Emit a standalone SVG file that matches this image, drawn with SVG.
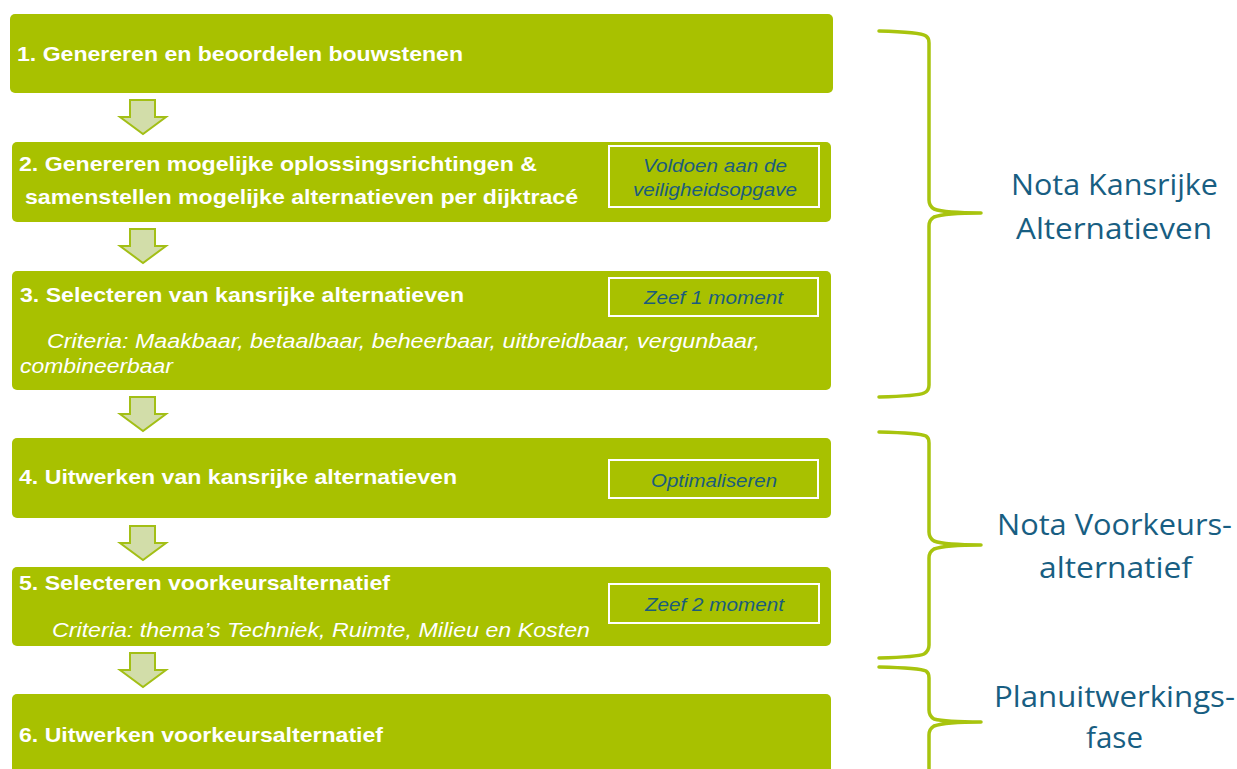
<svg xmlns="http://www.w3.org/2000/svg" width="1237" height="769" viewBox="0 0 1237 769">
<style>
.box{fill:#A8C100;}
.t{font-family:"Liberation Sans",Arial,sans-serif;font-weight:bold;font-size:21px;fill:#FFFFFF;}
.c{font-family:"Liberation Sans",Arial,sans-serif;font-style:italic;font-size:20px;fill:#FFFFFF;}
.ib{fill:none;stroke:#FFFFFF;stroke-width:2;}
.it{font-family:"Liberation Sans",Arial,sans-serif;font-style:italic;font-size:18px;fill:#1B5C7C;}
.arr{fill:#D2DDA9;stroke:#A3BF16;stroke-width:2;stroke-linejoin:miter;}
.br{fill:none;stroke:#A8C40E;stroke-width:3.5;stroke-linecap:round;stroke-linejoin:round;}
.lb{font-family:"Open Sans","Noto Sans",sans-serif;font-size:30px;fill:#185E82;}
</style>
<g id="node1">
<rect class="box" x="10" y="14" width="823" height="79" rx="5"/>
<text class="t" x="17" y="61" textLength="446" lengthAdjust="spacingAndGlyphs">1. Genereren en beoordelen bouwstenen</text>
</g>
<g id="node2">
<rect class="box" x="12" y="142" width="819" height="80" rx="5"/>
<text class="t" x="19" y="171" textLength="518" lengthAdjust="spacingAndGlyphs">2. Genereren mogelijke oplossingsrichtingen &amp;</text>
<text class="t" x="25" y="204" textLength="553" lengthAdjust="spacingAndGlyphs">samenstellen mogelijke alternatieven per dijktracé</text>
<rect class="ib" x="609" y="146" width="210" height="61"/>
<text class="it" x="643" y="172" textLength="144" lengthAdjust="spacingAndGlyphs">Voldoen aan de</text>
<text class="it" x="633" y="196" textLength="164" lengthAdjust="spacingAndGlyphs">veiligheidsopgave</text>
</g>
<g id="node3">
<rect class="box" x="12" y="271" width="819" height="119" rx="5"/>
<text class="t" x="20" y="302" textLength="444" lengthAdjust="spacingAndGlyphs">3. Selecteren van kansrijke alternatieven</text>
<text class="c" x="47" y="348" textLength="713" lengthAdjust="spacingAndGlyphs">Criteria: Maakbaar, betaalbaar, beheerbaar, uitbreidbaar, vergunbaar,</text>
<text class="c" x="20" y="373" textLength="153" lengthAdjust="spacingAndGlyphs">combineerbaar</text>
<rect class="ib" x="609" y="278" width="209" height="38"/>
<text class="it" x="644" y="304" textLength="139" lengthAdjust="spacingAndGlyphs">Zeef 1 moment</text>
</g>
<g id="node4">
<rect class="box" x="12" y="438" width="819" height="80" rx="5"/>
<text class="t" x="19" y="484" textLength="438" lengthAdjust="spacingAndGlyphs">4. Uitwerken van kansrijke alternatieven</text>
<rect class="ib" x="609" y="460" width="209" height="38"/>
<text class="it" x="651" y="487" textLength="126" lengthAdjust="spacingAndGlyphs">Optimaliseren</text>
</g>
<g id="node5">
<rect class="box" x="12" y="567" width="819" height="79" rx="5"/>
<text class="t" x="19" y="590" textLength="371" lengthAdjust="spacingAndGlyphs">5. Selecteren voorkeursalternatief</text>
<text class="c" x="52" y="637" textLength="538" lengthAdjust="spacingAndGlyphs">Criteria: thema’s Techniek, Ruimte, Milieu en Kosten</text>
<rect class="ib" x="609" y="584" width="210" height="39"/>
<text class="it" x="645" y="611" textLength="139" lengthAdjust="spacingAndGlyphs">Zeef 2 moment</text>
</g>
<g id="node6">
<rect class="box" x="12" y="694" width="819" height="90" rx="5"/>
<text class="t" x="19" y="742" textLength="364" lengthAdjust="spacingAndGlyphs">6. Uitwerken voorkeursalternatief</text>
</g>
<g id="connectors">
<path class="arr" d="M130,100 H155 V117 H166 L143,134 L120,117 H130 Z"/>
<path class="arr" d="M130,229 H155 V246 H166 L143,263 L120,246 H130 Z"/>
<path class="arr" d="M130,397 H155 V414 H166 L143,431 L120,414 H130 Z"/>
<path class="arr" d="M130,526 H155 V543 H166 L143,560 L120,543 H130 Z"/>
<path class="arr" d="M130,653 H155 V670 H166 L143,687 L120,670 H130 Z"/>
</g>
<g id="brace1">
<path class="br" d="M879,31 Q920,32 926,36 Q929,38 929,43 V200 Q929,206 934,209 Q945,213 981,213 Q945,213 934,217 Q929,220 929,226 V385 Q929,391 924,393 Q918,396 879,397"/>
<text class="lb" x="1011" y="195" textLength="207" lengthAdjust="spacingAndGlyphs">Nota Kansrijke</text>
<text class="lb" x="1016" y="239" textLength="196" lengthAdjust="spacingAndGlyphs">Alternatieven</text>
</g>
<g id="brace2">
<path class="br" d="M879,432 Q920,433 926,436 Q929,438 929,443 V532 Q929,538 934,541 Q945,545 981,545 Q945,545 934,549 Q929,552 929,558 V645 Q929,651 924,654 Q918,657 879,658"/>
<text class="lb" x="997" y="535" textLength="235" lengthAdjust="spacingAndGlyphs">Nota Voorkeurs-</text>
<text class="lb" x="1039" y="578" textLength="153" lengthAdjust="spacingAndGlyphs">alternatief</text>
</g>
<g id="brace3">
<path class="br" d="M879,667 Q920,668 926,671 Q929,673 929,678 V710 Q929,716 934,719 Q945,722 981,722 Q945,722 934,726 Q929,729 929,735 V775"/>
<text class="lb" x="994" y="707" textLength="241" lengthAdjust="spacingAndGlyphs">Planuitwerkings-</text>
<text class="lb" x="1086" y="748" textLength="57" lengthAdjust="spacingAndGlyphs">fase</text>
</g>
</svg>
